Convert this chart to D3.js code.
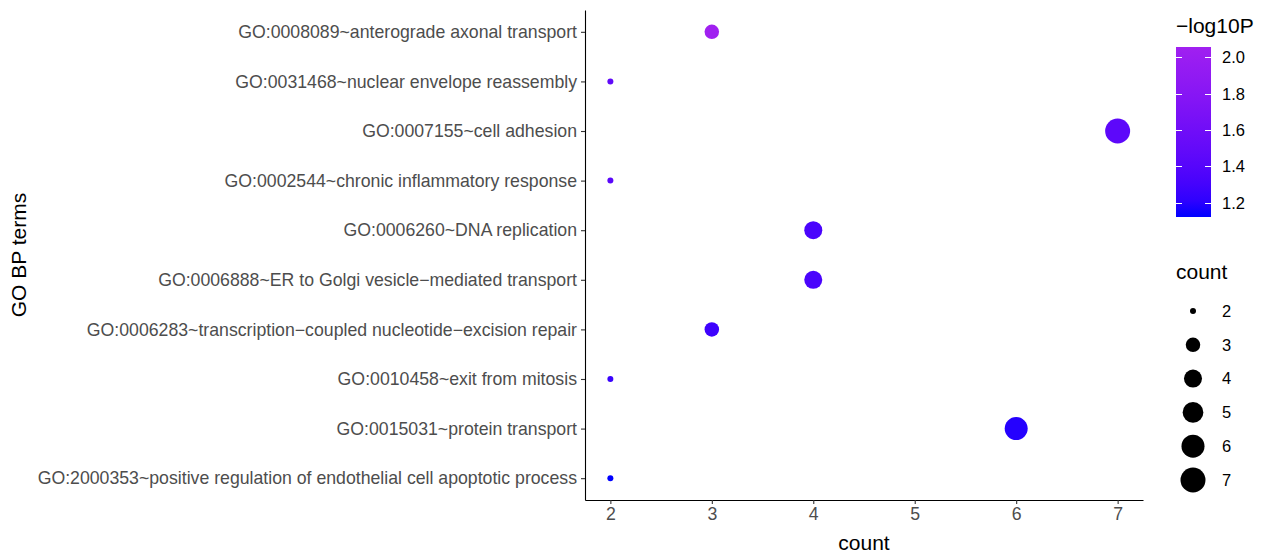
<!DOCTYPE html>
<html>
<head>
<meta charset="utf-8">
<script src="https://cdn.jsdelivr.net/npm/d3@7"></script>
<style>
  body { margin: 0; background: #fff; }
  svg { display: block; font-family: "Liberation Sans", Arial, sans-serif; }
</style>
</head>
<body>
<svg id="chart" width="1266" height="555"></svg>
<script>
// GO biological-process enrichment: term, gene count, -log10(P)
const terms = [
  "GO:0008089~anterograde axonal transport",
  "GO:0031468~nuclear envelope reassembly",
  "GO:0007155~cell adhesion",
  "GO:0002544~chronic inflammatory response",
  "GO:0006260~DNA replication",
  "GO:0006888~ER to Golgi vesicle\u2212mediated transport",
  "GO:0006283~transcription\u2212coupled nucleotide\u2212excision repair",
  "GO:0010458~exit from mitosis",
  "GO:0015031~protein transport",
  "GO:2000353~positive regulation of endothelial cell apoptotic process"
];
const counts = [3, 2, 7, 2, 4, 4, 3, 2, 6, 2];
const log10P = [2.055, 1.47, 1.45, 1.43, 1.33, 1.33, 1.27, 1.25, 1.18, 1.123];

const xTicks = [2, 3, 4, 5, 6, 7];
const colorTicks = [1.2, 1.4, 1.6, 1.8, 2.0];
const sizeBreaks = [2, 3, 4, 5, 6, 7];

const data = terms.map((t, i) => ({ term: t, count: counts[i], p: log10P[i] }));

const svg = d3.select("#chart");
const panel = { left: 585, right: 1143, top: 10, bottom: 500 };
const tickFont = "17.7px";
const titleFont = "21px";

const x = d3.scaleLinear().domain([1.75, 7.25]).range([panel.left, panel.right]);
const y = d3.scalePoint().domain(terms).range([panel.top, panel.bottom]).padding(0.44);

const pExtent = d3.extent(log10P);
const color = d3.scaleLinear().domain(pExtent).range(["#0000FF", "#A020F0"]).interpolate(d3.interpolateLab);

// point radius: sqrt of the rescaled count, mapped onto [3, 12.5] px
const sizeT = d3.scaleLinear().domain([2, 7]).range([0, 1]);
const rScale = d3.scaleLinear().domain([0, 1]).range([3, 12.5]);
const radius = v => rScale(Math.sqrt(sizeT(v)));

// axes
const xAxis = svg.append("g")
  .attr("transform", `translate(0,${panel.bottom})`)
  .call(d3.axisBottom(x).tickValues(xTicks).tickFormat(d3.format("d")).tickSize(4).tickSizeOuter(0).tickPadding(3));
xAxis.select(".domain").attr("stroke", "#000").attr("stroke-width", 1.1);
xAxis.selectAll(".tick line").attr("stroke", "#333").attr("stroke-width", 1.1);
xAxis.selectAll(".tick text").attr("fill", "#4D4D4D").style("font-size", tickFont).style("font-family", "Liberation Sans, Arial, sans-serif");

const yAxis = svg.append("g")
  .attr("transform", `translate(${panel.left},0)`)
  .call(d3.axisLeft(y).tickSize(4).tickSizeOuter(0).tickPadding(4));
yAxis.select(".domain").attr("stroke", "#000").attr("stroke-width", 1.1);
yAxis.selectAll(".tick line").attr("stroke", "#333").attr("stroke-width", 1.1);
yAxis.selectAll(".tick text").attr("fill", "#4D4D4D").style("font-size", tickFont).style("font-family", "Liberation Sans, Arial, sans-serif");

// points
svg.append("g").selectAll("circle")
  .data(data)
  .join("circle")
  .attr("cx", d => x(d.count))
  .attr("cy", d => y(d.term))
  .attr("r", d => radius(d.count))
  .attr("fill", d => color(d.p));

// axis titles
svg.append("text")
  .attr("x", (panel.left + panel.right) / 2).attr("y", 550)
  .attr("text-anchor", "middle").style("font-size", titleFont).attr("fill", "#000")
  .text("count");
svg.append("text")
  .attr("transform", `translate(26,${(panel.top + panel.bottom) / 2}) rotate(-90)`)
  .attr("text-anchor", "middle").style("font-size", titleFont).attr("fill", "#000")
  .text("GO BP terms");

// colour bar legend
const bar = { x: 1176, w: 35, top: 47, bottom: 217 };
const cbY = d3.scaleLinear().domain(pExtent).range([bar.bottom, bar.top]);
const defs = svg.append("defs");
const grad = defs.append("linearGradient").attr("id", "cbar")
  .attr("x1", 0).attr("y1", 1).attr("x2", 0).attr("y2", 0);
d3.range(0, 1.0001, 0.1).forEach(t => {
  grad.append("stop").attr("offset", t)
    .attr("stop-color", color(pExtent[0] + t * (pExtent[1] - pExtent[0])));
});
svg.append("text").attr("x", 1176).attr("y", 33)
  .style("font-size", titleFont).attr("fill", "#000").text("\u2212log10P");
svg.append("rect").attr("x", bar.x).attr("y", bar.top)
  .attr("width", bar.w).attr("height", bar.bottom - bar.top).attr("fill", "url(#cbar)");
const cb = svg.append("g");
colorTicks.forEach(v => {
  const yy = Math.round(cbY(v)) + 0.5;
  cb.append("line").attr("x1", bar.x).attr("x2", bar.x + 6).attr("y1", yy).attr("y2", yy)
    .attr("stroke", "#fff").attr("stroke-width", 1);
  cb.append("line").attr("x1", bar.x + bar.w - 6).attr("x2", bar.x + bar.w).attr("y1", yy).attr("y2", yy)
    .attr("stroke", "#fff").attr("stroke-width", 1);
  cb.append("text").attr("x", 1222).attr("y", yy).attr("dy", "0.35em")
    .style("font-size", "16.5px").attr("fill", "#000").text(d3.format(".1f")(v));
});

// size legend
svg.append("text").attr("x", 1176).attr("y", 279)
  .style("font-size", titleFont).attr("fill", "#000").text("count");
const keyY = d3.scalePoint().domain(sizeBreaks).range([311, 480]);
const sl = svg.append("g");
sizeBreaks.forEach(v => {
  sl.append("circle").attr("cx", 1193).attr("cy", keyY(v)).attr("r", radius(v)).attr("fill", "#000");
  sl.append("text").attr("x", 1222).attr("y", keyY(v)).attr("dy", "0.35em")
    .style("font-size", "16.5px").attr("fill", "#000").text(v);
});
</script>
</body>
</html>
